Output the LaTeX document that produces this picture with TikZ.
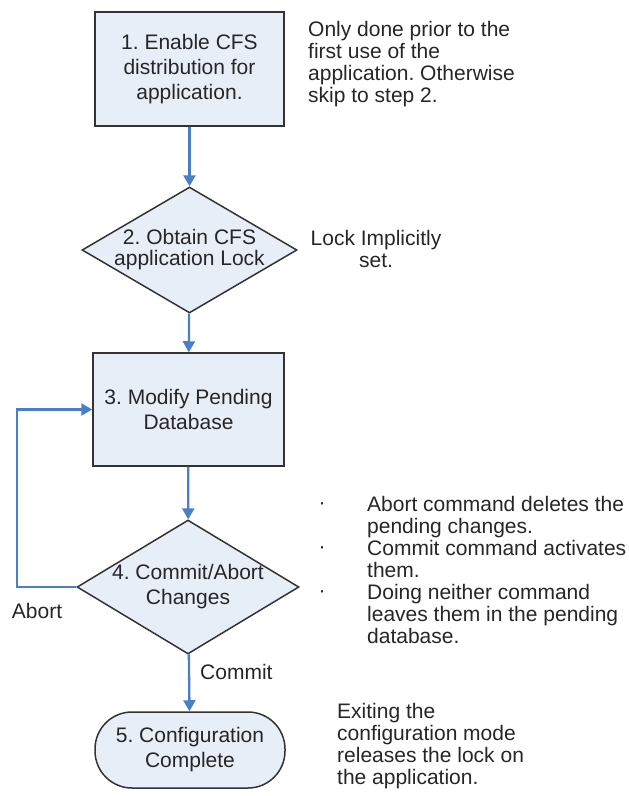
\documentclass[tikz,border=0pt]{standalone}
\usepackage{fontspec}
\setmainfont{Liberation Sans}
\usepackage{xcolor}
\usetikzlibrary{shapes.geometric,arrows.meta}
\definecolor{stepfill}{HTML}{E8EEF8}
\definecolor{stepline}{HTML}{333333}
\definecolor{flowblue}{HTML}{4A7EC6}
\definecolor{inktext}{HTML}{262626}
\frenchspacing

\begin{document}
\begin{tikzpicture}[x=1pt, y=-1pt,
    every node/.style={text=inktext, font=\fontsize{21}{25}\selectfont},
    stepbox/.style={draw=stepline, line width=1.5pt, fill=stepfill, inner sep=0pt, align=center, minimum width=#1},
    decide/.style={draw=stepline, line width=1.5pt, fill=stepfill, diamond, inner sep=0pt},
    note/.style={align=left, inner sep=0pt, font=\fontsize{21}{22}\selectfont},
    arr/.style={-{Triangle[width=12pt, length=11pt]}, line width=2.3pt, draw=flowblue}
]
\useasboundingbox (0,0) rectangle (629,796);

% flow steps
\node[stepbox=189pt, minimum height=114pt] (enable) at (189.5, 69) {1. Enable CFS\\distribution for\\application.};
\node[decide, minimum width=215pt, minimum height=126pt,
      label={[align=center, font=\fontsize{21}{21}\selectfont]center:{2. Obtain CFS\\application Lock}}] (lock) at (189.5, 250) {};
\node[stepbox=191pt, minimum height=113pt] (modify) at (188.5, 409.5) {3. Modify Pending\\Database};
\node[decide, minimum width=222pt, minimum height=134pt,
      label={[align=center]center:{4. Commit/Abort\\Changes}}] (commit) at (188, 587) {};
\node[stepbox=190pt, minimum height=76pt, rounded corners=37pt] (done) at (190, 750) {5. Configuration\\Complete};

% side notes
\node[note, anchor=west] (noteFirst) at (308, 64) {Only done prior to the\\first use of the\\application. Otherwise\\skip to step 2.};
\node[note, align=center] (noteLock) at (376, 249) {Lock Implicitly\\set.};
\node[note, anchor=west] (noteCommit) at (367, 570) {Abort command deletes the\\pending changes.\\Commit command activates\\them.\\Doing neither command\\leaves them in the pending\\database.};
\node[note, anchor=west] (noteExit) at (337, 746) {Exiting the\\configuration mode\\releases the lock on\\the application.};
\foreach \y/\n in {506/a, 550/b, 594/c}
  \node[note] (dot\n) at (322, \y) {·};

% connectors
\draw[arr] (enable) -- (lock);
\draw[arr] (lock) -- (modify);
\draw[arr] (modify) -- (commit);
\draw[arr] (commit.west) -- ++(-59,0) |- (modify.west);
\draw[arr] (commit) -- (done);
\node[note] (abortLabel) at (37, 611) {Abort};
\node[note, anchor=west] (commitLabel) at (200, 672) {Commit};
\end{tikzpicture}
\end{document}
